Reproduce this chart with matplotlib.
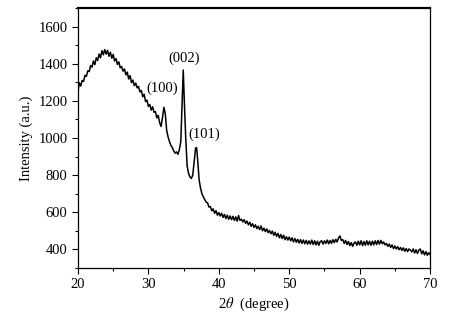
import matplotlib
matplotlib.use('Agg')
import matplotlib.pyplot as plt
from matplotlib.ticker import MultipleLocator

# XRD pattern
two_theta = [
    20.0, 20.2, 20.4, 20.6, 20.8, 21.0, 21.2, 21.4, 21.6, 21.8,
    22.0, 22.2, 22.4, 22.6, 22.8, 23.0, 23.2, 23.4, 23.6, 23.8,
    24.0, 24.2, 24.4, 24.6, 24.8, 25.0, 25.2, 25.4, 25.6, 25.8,
    26.0, 26.2, 26.4, 26.6, 26.8, 27.0, 27.2, 27.4, 27.6, 27.8,
    28.0, 28.2, 28.4, 28.6, 28.8, 29.0, 29.2, 29.4, 29.6, 29.8,
    30.0, 30.2, 30.4, 30.6, 30.8, 31.0, 31.2, 31.4, 31.6, 31.8,
    32.0, 32.2, 32.4, 32.6, 32.8, 33.0, 33.2, 33.4, 33.6, 33.8,
    34.0, 34.2, 34.4, 34.6, 34.8, 34.95, 35.1, 35.3, 35.5, 35.7,
    35.9, 36.1, 36.3, 36.5, 36.7, 36.85, 37.0, 37.2, 37.4, 37.6,
    37.8, 38.0, 38.2, 38.4, 38.6, 38.8, 39.0, 39.2, 39.4, 39.6,
    39.8, 40.0, 40.2, 40.4, 40.6, 40.8, 41.0, 41.2, 41.4, 41.6,
    41.8, 42.0, 42.2, 42.4, 42.6, 42.8, 43.0, 43.2, 43.4, 43.6,
    43.8, 44.0, 44.2, 44.4, 44.6, 44.8, 45.0, 45.2, 45.4, 45.6,
    45.8, 46.0, 46.2, 46.4, 46.6, 46.8, 47.0, 47.2, 47.4, 47.6,
    47.8, 48.0, 48.2, 48.4, 48.6, 48.8, 49.0, 49.2, 49.4, 49.6,
    49.8, 50.0, 50.2, 50.4, 50.6, 50.8, 51.0, 51.2, 51.4, 51.6,
    51.8, 52.0, 52.2, 52.4, 52.6, 52.8, 53.0, 53.2, 53.4, 53.6,
    53.8, 54.0, 54.2, 54.4, 54.6, 54.8, 55.0, 55.2, 55.4, 55.6,
    55.8, 56.0, 56.2, 56.4, 56.6, 56.8, 57.0, 57.2, 57.4, 57.6,
    57.8, 58.0, 58.2, 58.4, 58.6, 58.8, 59.0, 59.2, 59.4, 59.6,
    59.8, 60.0, 60.2, 60.4, 60.6, 60.8, 61.0, 61.2, 61.4, 61.6,
    61.8, 62.0, 62.2, 62.4, 62.6, 62.8, 63.0, 63.2, 63.4, 63.6,
    63.8, 64.0, 64.2, 64.4, 64.6, 64.8, 65.0, 65.2, 65.4, 65.6,
    65.8, 66.0, 66.2, 66.4, 66.6, 66.8, 67.0, 67.2, 67.4, 67.6,
    67.8, 68.0, 68.2, 68.4, 68.6, 68.8, 69.0, 69.2, 69.4, 69.6,
    69.8, 70.0,
]
intensity = [
    1250, 1298, 1280, 1310, 1305, 1338, 1332, 1362, 1358, 1390,
    1382, 1415, 1395, 1432, 1418, 1452, 1432, 1470, 1448, 1476,
    1452, 1472, 1440, 1462, 1430, 1450, 1415, 1428, 1396, 1410,
    1378, 1385, 1360, 1372, 1340, 1355, 1318, 1336, 1298, 1312,
    1282, 1296, 1270, 1278, 1248, 1256, 1222, 1236, 1196, 1204,
    1170, 1180, 1150, 1168, 1138, 1142, 1108, 1122, 1082, 1062,
    1110, 1165, 1130, 1040, 1005, 980, 960, 948, 930, 918,
    925, 912, 938, 980, 1200, 1366, 1200, 1000, 850, 810,
    790, 782, 800, 870, 945, 948, 880, 775, 730, 700,
    683, 668, 655, 650, 628, 630, 608, 618, 594, 608,
    584, 598, 580, 594, 572, 588, 566, 584, 562, 580,
    560, 578, 556, 575, 552, 582, 556, 562, 548, 560,
    540, 552, 532, 546, 524, 538, 518, 532, 512, 524,
    506, 526, 500, 514, 496, 510, 490, 502, 484, 498,
    476, 492, 470, 486, 462, 480, 458, 476, 452, 468,
    450, 466, 446, 462, 440, 458, 438, 454, 434, 452,
    432, 450, 430, 448, 428, 446, 428, 450, 426, 446,
    424, 444, 422, 442, 446, 428, 446, 432, 450, 430,
    448, 432, 452, 436, 454, 440, 462, 472, 448, 452,
    432, 448, 426, 442, 420, 436, 416, 434, 440, 422,
    444, 424, 446, 420, 442, 422, 446, 424, 444, 422,
    444, 424, 446, 426, 448, 428, 448, 430, 440, 424,
    432, 416, 428, 410, 424, 404, 418, 402, 414, 398,
    410, 394, 408, 390, 404, 388, 402, 396, 386, 402,
    380, 398, 378, 396, 402, 376, 392, 370, 388, 368,
    382, 372,
]

# Peak labels
peak_labels = ['(100)', '(002)', '(101)']
label_x = [32.0, 35.05, 38.0]
label_y = [1267, 1431, 1021]

plt.rcParams['font.family'] = ['Liberation Serif', 'DejaVu Serif']
plt.rcParams['mathtext.fontset'] = 'stix'

fig = plt.figure(figsize=(4.64, 3.22), dpi=100)
ax = fig.add_axes([0.168, 0.168, 0.759, 0.807])

ax.plot(two_theta, intensity, color='black', linewidth=1.1)

for text, tx, ty in zip(peak_labels, label_x, label_y):
    ax.text(tx, ty, text, ha='center', va='center', fontsize=10.5)

ax.set_xlim(20, 70)
ax.set_ylim(300, 1700)
ax.xaxis.set_major_locator(MultipleLocator(10))
ax.xaxis.set_minor_locator(MultipleLocator(5))
ax.yaxis.set_major_locator(MultipleLocator(200))
ax.yaxis.set_minor_locator(MultipleLocator(100))
ax.tick_params(which='major', direction='out', length=4, width=0.8, labelsize=10.5)
ax.tick_params(which='minor', direction='out', length=2, width=0.8)
ax.set_yticks([400, 600, 800, 1000, 1200, 1400, 1600])

for side in ax.spines:
    ax.spines[side].set_linewidth(0.9)
ax.spines['top'].set_linewidth(1.6)

ax.set_xlabel(r'2$\theta$  (degree)', fontsize=10.5, labelpad=3)
ax.set_ylabel('Intensity (a.u.)', fontsize=10.5, labelpad=4)

fig.savefig('out.png', dpi=100)
